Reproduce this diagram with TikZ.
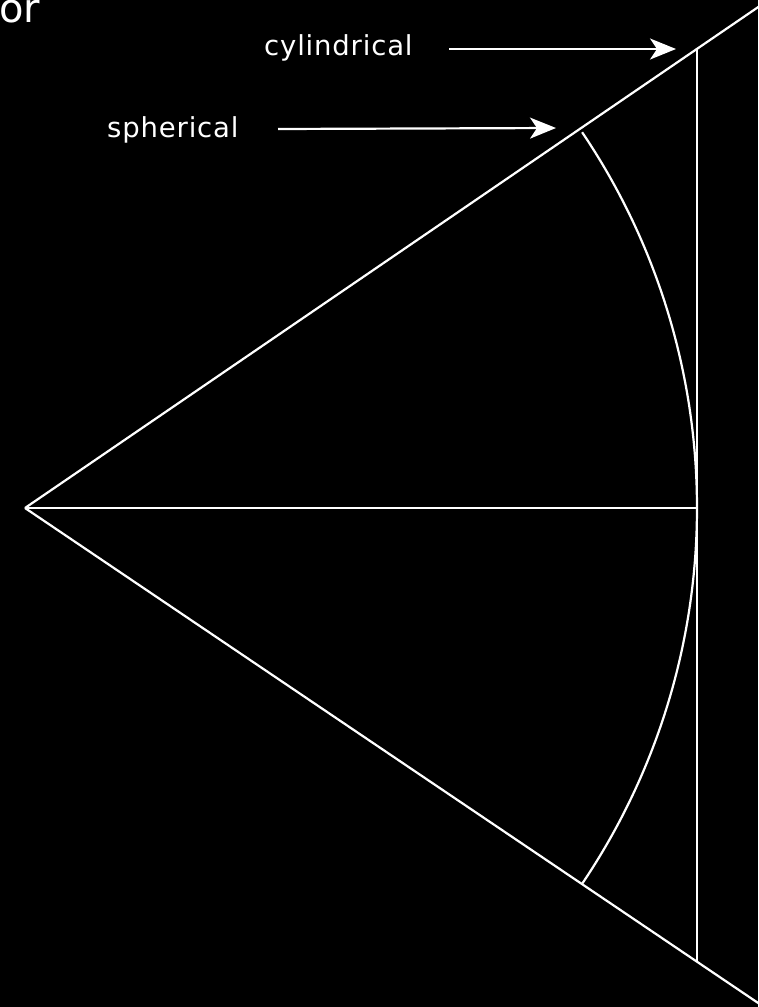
\documentclass[tikz,border=0pt]{standalone}
\usepackage{fontspec}
\usetikzlibrary{arrows.meta}
\newfontfamily\labfont[LetterSpace=3]{DejaVu Sans}
\newfontfamily\orfont{DejaVu Sans}
\begin{document}
\begin{tikzpicture}[x=1pt,y=-1pt,
  geo/.style={draw=white, line width=2.2pt},
  lab/.style={text=white, inner sep=0pt, anchor=base west, font=\labfont\fontsize{27.5}{32}\selectfont},
  arr/.style={draw=white, line width=2.2pt, -{Stealth[length=26pt, width=21pt, inset=7pt]}}]
\fill[black] (0,0) rectangle (758,1007);
\useasboundingbox (0,0) rectangle (758,1007);
\begin{scope}
\clip (0,0) rectangle (758,1007);
% geometry
\coordinate (apex) at (25,508);
\coordinate (topend) at (770,-1);
\coordinate (botend) at (770,1011);
\coordinate (cyltop) at (697,49);
\coordinate (cylbot) at (697,962);
\coordinate (mid) at (697,508);
\draw[geo] (apex) -- (topend);
\draw[geo] (apex) -- (botend);
\draw[geo] (apex) -- (mid);
\draw[geo] (cyltop) -- (cylbot);
\draw[geo] (apex) ++(-34:672) arc[start angle=-34, end angle=34, radius=672];
% partially visible text
\node[text=white, inner sep=0pt, anchor=base west, font=\orfont\fontsize{40}{44}\selectfont] (ortext) at (-1,22) {or};
\end{scope}
% labels
\node[lab] (cyl) at (264,55) {cylindrical};
\node[lab] (sph) at (107,137) {spherical};
\coordinate (cylstart) at (449,49);
\coordinate (cyltip) at (676,49);
\coordinate (sphstart) at (278,129);
\coordinate (sphtip) at (556,128);
\draw[arr] (cylstart) -- (cyltip);
\draw[arr] (sphstart) -- (sphtip);
\end{tikzpicture}
\end{document}
